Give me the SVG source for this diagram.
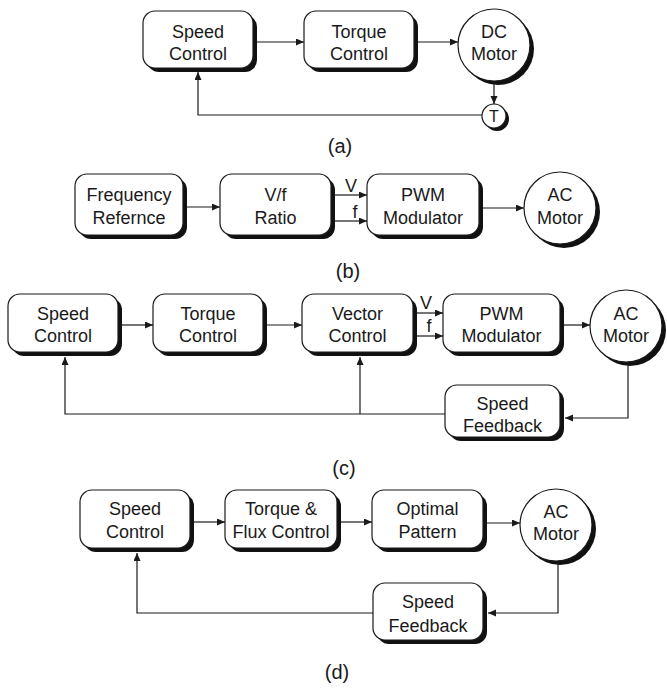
<svg xmlns="http://www.w3.org/2000/svg" width="667" height="690" viewBox="0 0 667 690">
<defs>
<marker id="ah" markerUnits="userSpaceOnUse" markerWidth="9" markerHeight="8" refX="8" refY="3.5" orient="auto">
<path d="M0,0 L8,3.5 L0,7 z" fill="#1a1a1a"/>
</marker>
</defs>
<style>
.sh{fill:#111;}
.bx{fill:#fff;stroke:#1a1a1a;stroke-width:1.2;}
.t{font-family:"Liberation Sans",Arial,sans-serif;font-size:18px;fill:#1a1a1a;text-anchor:middle;}
.cap{font-family:"Liberation Sans",Arial,sans-serif;font-size:20px;fill:#1a1a1a;text-anchor:middle;}
.ln{fill:none;stroke:#1a1a1a;stroke-width:1.2;}
.ar{marker-end:url(#ah);}
</style>
<rect width="667" height="690" fill="#fff"/>

<!-- (a) -->
<g id="a_speed">
<rect class="sh" x="147" y="15" width="110" height="57" rx="12"/>
<rect class="bx" x="143" y="11" width="110" height="57" rx="12"/>
<text class="t" x="198" y="38">Speed</text><text class="t" x="198" y="60">Control</text>
</g>
<g id="a_torque">
<rect class="sh" x="308" y="15" width="110" height="57" rx="12"/>
<rect class="bx" x="304" y="11" width="110" height="57" rx="12"/>
<text class="t" x="359" y="38">Torque</text><text class="t" x="359" y="60">Control</text>
</g>
<g id="a_motor">
<circle class="sh" cx="498" cy="49" r="36"/>
<circle class="bx" cx="494" cy="45" r="36"/>
<text class="t" x="494" y="38">DC</text><text class="t" x="494" y="60">Motor</text>
</g>
<g id="a_tacho">
<circle class="sh" cx="497" cy="119" r="12"/>
<circle class="bx" cx="494" cy="116" r="12"/>
<text class="t" x="494" y="122" style="font-size:16px">T</text>
</g>
<text class="cap" x="340" y="153">(a)</text>

<!-- (b) -->
<g id="b_freq">
<rect class="sh" x="79" y="178" width="108" height="61" rx="12"/>
<rect class="bx" x="75" y="174" width="108" height="61" rx="12"/>
<text class="t" x="129" y="201">Frequency</text><text class="t" x="129" y="224">Refernce</text>
</g>
<g id="b_vf">
<rect class="sh" x="224" y="178" width="111" height="61" rx="12"/>
<rect class="bx" x="220" y="174" width="111" height="61" rx="12"/>
<text class="t" x="275.5" y="201">V/f</text><text class="t" x="275.5" y="224">Ratio</text>
</g>
<g id="b_pwm">
<rect class="sh" x="371" y="178" width="112" height="61" rx="12"/>
<rect class="bx" x="367" y="174" width="112" height="61" rx="12"/>
<text class="t" x="423" y="201">PWM</text><text class="t" x="423" y="224">Modulator</text>
</g>
<g id="b_motor">
<circle class="sh" cx="564" cy="212" r="36"/>
<circle class="bx" cx="560" cy="208" r="36"/>
<text class="t" x="560" y="201">AC</text><text class="t" x="560" y="224">Motor</text>
</g>
<text class="t" x="351" y="192">V</text>
<text class="t" x="355" y="218">f</text>
<text class="cap" x="348" y="278">(b)</text>

<!-- (c) -->
<g id="c_speed">
<rect class="sh" x="12" y="298" width="110" height="58" rx="12"/>
<rect class="bx" x="8" y="294" width="110" height="58" rx="12"/>
<text class="t" x="63" y="320">Speed</text><text class="t" x="63" y="342">Control</text>
</g>
<g id="c_torque">
<rect class="sh" x="157" y="298" width="110" height="58" rx="12"/>
<rect class="bx" x="153" y="294" width="110" height="58" rx="12"/>
<text class="t" x="208" y="320">Torque</text><text class="t" x="208" y="342">Control</text>
</g>
<g id="c_vector">
<rect class="sh" x="306" y="298" width="111" height="58" rx="12"/>
<rect class="bx" x="302" y="294" width="111" height="58" rx="12"/>
<text class="t" x="357.5" y="320">Vector</text><text class="t" x="357.5" y="342">Control</text>
</g>
<g id="c_pwm">
<rect class="sh" x="447" y="298" width="117" height="58" rx="12"/>
<rect class="bx" x="443" y="294" width="117" height="58" rx="12"/>
<text class="t" x="501.5" y="320">PWM</text><text class="t" x="501.5" y="342">Modulator</text>
</g>
<g id="c_motor">
<circle class="sh" cx="630" cy="330" r="36"/>
<circle class="bx" cx="626" cy="326" r="36"/>
<text class="t" x="626" y="320">AC</text><text class="t" x="626" y="342">Motor</text>
</g>
<g id="c_feedback">
<rect class="sh" x="449" y="389" width="115" height="52" rx="12"/>
<rect class="bx" x="445" y="385" width="115" height="52" rx="12"/>
<text class="t" x="502.5" y="410">Speed</text><text class="t" x="502.5" y="432">Feedback</text>
</g>
<text class="t" x="426" y="309">V</text>
<text class="t" x="429" y="332">f</text>
<text class="cap" x="344" y="475">(c)</text>

<!-- (d) -->
<g id="d_speed">
<rect class="sh" x="84" y="494" width="110" height="58" rx="12"/>
<rect class="bx" x="80" y="490" width="110" height="58" rx="12"/>
<text class="t" x="135" y="515">Speed</text><text class="t" x="135" y="538">Control</text>
</g>
<g id="d_torque">
<rect class="sh" x="229" y="494" width="112" height="58" rx="12"/>
<rect class="bx" x="225" y="490" width="112" height="58" rx="12"/>
<text class="t" x="281" y="515">Torque &amp;</text><text class="t" x="281" y="538">Flux Control</text>
</g>
<g id="d_optimal">
<rect class="sh" x="376" y="494" width="111" height="58" rx="12"/>
<rect class="bx" x="372" y="490" width="111" height="58" rx="12"/>
<text class="t" x="427.5" y="515">Optimal</text><text class="t" x="427.5" y="538">Pattern</text>
</g>
<g id="d_motor">
<circle class="sh" cx="560" cy="529" r="36"/>
<circle class="bx" cx="556" cy="525" r="36"/>
<text class="t" x="556" y="518">AC</text><text class="t" x="556" y="540">Motor</text>
</g>
<g id="d_feedback">
<rect class="sh" x="377" y="587" width="110" height="57" rx="12"/>
<rect class="bx" x="373" y="583" width="110" height="57" rx="12"/>
<text class="t" x="428" y="608">Speed</text><text class="t" x="428" y="632">Feedback</text>
</g>
<text class="cap" x="337" y="679">(d)</text>

<g id="connectors">
<path class="ln ar" d="M257,42 H304"/>
<path class="ln ar" d="M418,42 H458"/>
<path class="ln ar" d="M494,81 V104"/>
<path class="ln ar" d="M482,115 H198 V72"/>

<path class="ln ar" d="M187,207 H220"/>
<path class="ln ar" d="M335,195 H367"/>
<path class="ln ar" d="M335,221 H367"/>
<path class="ln ar" d="M483,208 H524"/>

<path class="ln ar" d="M122,325 H153"/>
<path class="ln ar" d="M267,325 H302"/>
<path class="ln ar" d="M417,313 H443"/>
<path class="ln ar" d="M417,336 H443"/>
<path class="ln ar" d="M564,325 H590"/>
<path class="ln ar" d="M628,362 V418 H565"/>
<path class="ln ar" d="M445,414 H65 V357"/>
<path class="ln ar" d="M360,414 V357"/>

<path class="ln ar" d="M194,522 H225"/>
<path class="ln ar" d="M341,522 H372"/>
<path class="ln ar" d="M487,523 H520"/>
<path class="ln ar" d="M558,561 V613 H488"/>
<path class="ln ar" d="M373,613 H137 V553"/>
</g>
</svg>
